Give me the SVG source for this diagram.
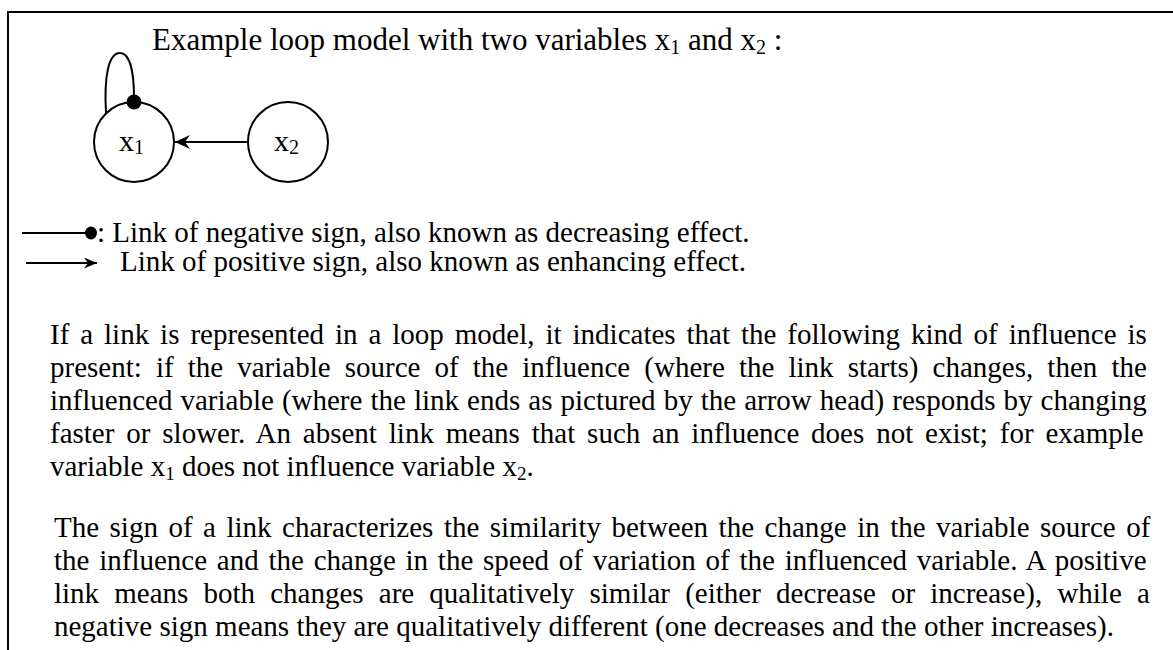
<svg xmlns="http://www.w3.org/2000/svg" width="1173" height="650" viewBox="0 0 1173 650">
  <style>
    .t { font-family: "Liberation Serif", "Times New Roman", serif; fill: #000; }
    .body { font-size: 29px; }
    .node { fill: #fff; stroke: #000; stroke-width: 2; }
    .edge { fill: none; stroke: #000; stroke-width: 2; }
  </style>
  <defs>
    <!-- barbed arrowhead, tip at the line end -->
    <marker id="arrow" viewBox="0 0 15 14" refX="15" refY="7" markerWidth="15" markerHeight="14" markerUnits="userSpaceOnUse" orient="auto">
      <path d="M15,7 L0,0 L5,7 L0,14 Z" fill="#000"/>
    </marker>
    <marker id="arrow-small" viewBox="0 0 13 11" refX="13" refY="5.5" markerWidth="13" markerHeight="11" markerUnits="userSpaceOnUse" orient="auto">
      <path d="M13,5.5 L0,0 L4,5.5 L0,11 Z" fill="#000"/>
    </marker>
  </defs>

  <rect width="1173" height="650" fill="#fff"/>

  <!-- frame: top and left rules -->
  <g id="frame" stroke="#000" fill="none" stroke-width="2">
    <line x1="7" y1="12" x2="1173" y2="12"/>
    <line x1="8" y1="11" x2="8" y2="650"/>
  </g>

  <text id="title" class="t" x="152" y="50" font-size="31">Example loop model with two variables x<tspan font-size="20" dy="4">1</tspan><tspan dy="-4"> and x</tspan><tspan font-size="20" dy="4">2</tspan><tspan dy="-4"> :</tspan></text>

  <g id="node-x1">
    <circle class="node" cx="134" cy="142" r="40"/>
    <text class="t" x="119" y="151" font-size="30">x<tspan font-size="20" dy="3">1</tspan></text>
  </g>
  <g id="node-x2">
    <circle class="node" cx="288" cy="142" r="40"/>
    <text class="t" x="274" y="151" font-size="30">x<tspan font-size="20" dy="3">2</tspan></text>
  </g>

  <!-- connectors: negative self-loop on x1, positive link x2 -> x1 -->
  <g id="connectors">
    <path class="edge" d="M106,113 C104,78 108,53 120,53 C131,53 134,76 134,98"/>
    <circle cx="134" cy="102" r="7.5" fill="#000"/>
    <line class="edge" x1="248" y1="142" x2="175" y2="142" marker-end="url(#arrow)"/>
  </g>

  <!-- legend -->
  <g id="legend-negative">
    <line class="edge" x1="22" y1="233" x2="86" y2="233"/>
    <ellipse cx="91" cy="233" rx="6" ry="6.5" fill="#000"/>
    <text class="t body" x="97" y="242">: Link of negative sign, also known as decreasing effect.</text>
  </g>
  <g id="legend-positive">
    <line class="edge" x1="26" y1="263" x2="97" y2="263" marker-end="url(#arrow-small)"/>
    <text class="t body" x="120" y="271">Link of positive sign, also known as enhancing effect.</text>
  </g>

  <!-- explanation, justified lines -->
  <g id="para-1" class="t body">
    <text x="50" y="344" word-spacing="3.69">If a link is represented in a loop model, it indicates that the following kind of influence is</text>
    <text x="50" y="377" word-spacing="6.85">present: if the variable source of the influence (where the link starts) changes, then the</text>
    <text x="50" y="410" word-spacing="0.81">influenced variable (where the link ends as pictured by the arrow head) responds by changing</text>
    <text x="50" y="443" word-spacing="4.62">faster or slower. An absent link means that such an influence does not exist; for example</text>
    <text x="50" y="476">variable x<tspan font-size="19" dy="4">1</tspan><tspan dy="-4"> does not influence variable x</tspan><tspan font-size="19" dy="4">2</tspan><tspan dy="-4">.</tspan></text>
  </g>
  <g id="para-2" class="t body">
    <text x="54" y="537" word-spacing="3.25">The sign of a link characterizes the similarity between the change in the variable source of</text>
    <text x="54" y="570" word-spacing="2.51">the influence and the change in the speed of variation of the influenced variable. A positive</text>
    <text x="54" y="603" word-spacing="7.91">link means both changes are qualitatively similar (either decrease or increase), while a</text>
    <text x="54" y="636">negative sign means they are qualitatively different (one decreases and the other increases).</text>
  </g>
</svg>
